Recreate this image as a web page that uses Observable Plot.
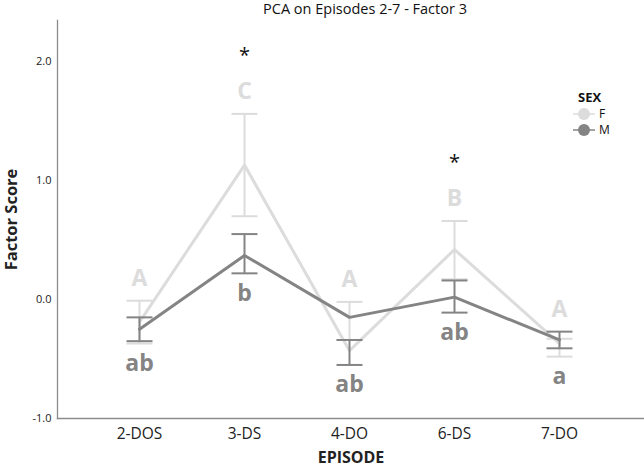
<!DOCTYPE html>
<html>
<head>
<meta charset="utf-8">
<script src="https://cdn.jsdelivr.net/npm/d3@7"></script>
<script src="https://cdn.jsdelivr.net/npm/@observablehq/plot@0.6"></script>
<style>
  html, body { margin: 0; padding: 0; background: #fff; }
  #wrap { position: relative; width: 644px; height: 469px; font-family: "Open Sans", sans-serif; }
  #title { position: absolute; left: 160px; width: 410px; top: -1px; text-align: center; font-size: 14.5px; color: #111; }
  #legend { position: absolute; left: 572px; top: 88px; font-size: 12px; color: #111; line-height: 14px; }
  #legend .head { font-weight: bold; margin-left: 6px; height: 18px; line-height: 18px; font-size: 13px; }
  #legend .row { display: flex; align-items: center; height: 16px; line-height: 14px; }
  #legend svg { display: block; margin-right: 3px; }
  [aria-label="x-axis label"], [aria-label="y-axis label"] { font-weight: bold; }
  [aria-label="y-axis label"] { font-size: 16.5px; }
  [aria-label="x-axis label"] { font-size: 16px; }
  #wrap > svg { position: absolute; left: 0; top: 0; }
</style>
</head>
<body>
<div id="wrap">
  <div id="title">PCA on Episodes 2-7 - Factor 3</div>
  <div id="legend"></div>
</div>
<script>
const episodes = ["2-DOS", "3-DS", "4-DO", "6-DS", "7-DO"];
const femaleMean = [-0.19, 1.13, -0.43, 0.42, -0.37];
const femaleLow  = [-0.37, 0.70, -0.34, 0.17, -0.48];
const femaleHigh = [-0.01, 1.56, -0.02, 0.66, -0.33];
const maleMean   = [-0.25, 0.37, -0.15, 0.02, -0.34];
const maleLow    = [-0.35, 0.22, -0.55, -0.11, -0.41];
const maleHigh   = [-0.15, 0.55, -0.34, 0.16, -0.27];
const femaleLetters = ["A", "C", "A", "B", "A"];
const maleLetters   = ["ab", "b", "ab", "ab", "a"];
const significant   = [false, true, false, true, false];
const yTicks = [-1, 0, 1, 2];
const sexes = ["F", "M"];

const LIGHT = "#dcdcdc";
const DARK = "#848484";

const rows = episodes.map((e, i) => ({
  episode: e,
  fMean: femaleMean[i], fLow: femaleLow[i], fHigh: femaleHigh[i],
  mMean: maleMean[i], mLow: maleLow[i], mHigh: maleHigh[i],
  fLetter: femaleLetters[i], mLetter: maleLetters[i],
  top: Math.max(femaleHigh[i], maleHigh[i]),
  bottom: Math.min(femaleLow[i], maleLow[i]),
  sig: significant[i]
}));

const cap = {
  draw(ctx, size) {
    const w = Math.sqrt(size / Math.PI);
    ctx.moveTo(-w, 0);
    ctx.lineTo(w, 0);
  }
};

const chart = Plot.plot({
  width: 644,
  height: 469,
  marginLeft: 57,
  marginRight: 0,
  marginTop: 20,
  marginBottom: 51,
  style: { fontFamily: "Open Sans, sans-serif", color: "#222", background: "transparent", overflow: "visible" },
  x: { type: "point", domain: episodes, padding: 0.785, align: 0.49 },
  y: { domain: [-1, 2.345] },
  marks: [
    Plot.frame({ anchor: "left", stroke: "#8c8c8c", strokeWidth: 1.3 }),
    Plot.frame({ anchor: "bottom", stroke: "#8c8c8c", strokeWidth: 1.3 }),
    Plot.axisX({ tickSize: 0, tickPadding: 9, fontSize: 15.5, label: "EPISODE", labelAnchor: "center", labelArrow: "none", labelOffset: 44 }),
    Plot.axisY({ ticks: yTicks, tickSize: 0, tickPadding: 6, fontSize: 11, tickFormat: d => d.toFixed(1), label: "Factor Score", labelAnchor: "center", labelArrow: "none", labelOffset: 52 }),
    // Female series
    Plot.ruleX(rows, { x: "episode", y1: "fLow", y2: "fHigh", stroke: LIGHT, strokeWidth: 2 }),
    Plot.dot(rows, { x: "episode", y: "fLow", symbol: cap, r: 13, stroke: LIGHT, strokeWidth: 2, fill: "none" }),
    Plot.dot(rows, { x: "episode", y: "fHigh", symbol: cap, r: 13, stroke: LIGHT, strokeWidth: 2, fill: "none" }),
    Plot.lineY(rows, { x: "episode", y: "fMean", stroke: LIGHT, strokeWidth: 3 }),
    // Male series
    Plot.ruleX(rows, { x: "episode", y1: "mLow", y2: "mHigh", stroke: DARK, strokeWidth: 2 }),
    Plot.dot(rows, { x: "episode", y: "mLow", symbol: cap, r: 13, stroke: DARK, strokeWidth: 2, fill: "none" }),
    Plot.dot(rows, { x: "episode", y: "mHigh", symbol: cap, r: 13, stroke: DARK, strokeWidth: 2, fill: "none" }),
    Plot.lineY(rows, { x: "episode", y: "mMean", stroke: DARK, strokeWidth: 3 }),
    // Letters
    Plot.text(rows, { x: "episode", y: "top", text: "fLetter", dy: -22, fill: LIGHT, fontSize: 23, fontWeight: "bold" }),
    Plot.text(rows, { x: "episode", y: "bottom", text: "mLetter", dy: 20, fill: DARK, fontSize: 23, fontWeight: "bold" }),
    Plot.text(rows.filter(d => d.sig), { x: "episode", y: "fHigh", text: () => "*", dy: -58, fill: "#111", fontSize: 20 })
  ]
});

document.getElementById("wrap").appendChild(chart);

const legend = document.getElementById("legend");
legend.innerHTML = `<div class="head">SEX</div>` + sexes.map((s, i) => {
  const c = i === 0 ? LIGHT : DARK;
  return `<div class="row"><svg width="24" height="16"><line x1="1" x2="23" y1="8" y2="8" stroke="${c}" stroke-width="1.5"/><circle cx="12" cy="8" r="6" fill="${c}"/></svg><span>${s}</span></div>`;
}).join("");
</script>
</body>
</html>
